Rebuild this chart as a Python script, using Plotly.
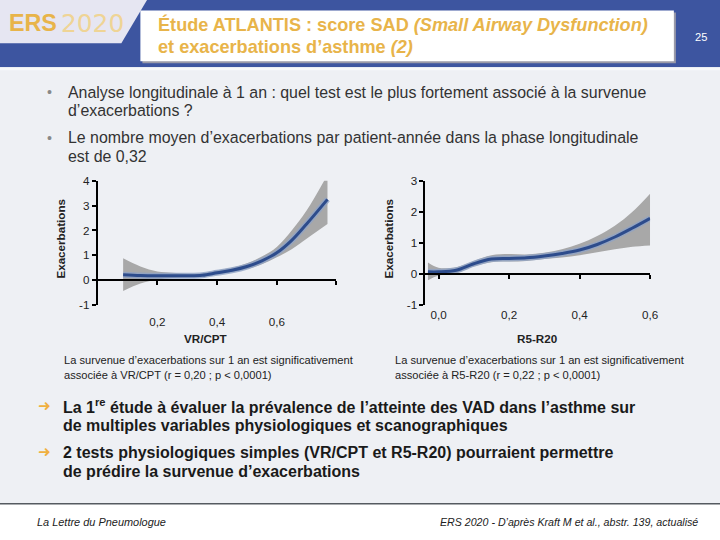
import plotly.graph_objects as go

# design coordinates follow the 720x540 slide; S compensates the screenshot scaling
W, H = 720, 540
S = 1.0135

# ---------------- data ----------------
vr_x = [0.085, 0.143, 0.2, 0.25, 0.3, 0.35, 0.4, 0.45, 0.5, 0.55, 0.6, 0.65, 0.7, 0.77]
vr_fit = [0.22, 0.19, 0.18, 0.18, 0.18, 0.2, 0.3, 0.4, 0.55, 0.78, 1.1, 1.6, 2.26, 3.25]
vr_lo = [-0.43, -0.13, 0.03, 0.09, 0.12, 0.15, 0.22, 0.32, 0.45, 0.64, 0.92, 1.25, 1.67, 2.26]
vr_hi = [0.88, 0.55, 0.35, 0.3, 0.26, 0.28, 0.4, 0.5, 0.68, 0.95, 1.34, 2.0, 2.8, 4.24]

r5_x = [-0.03, 0.0, 0.05, 0.1, 0.15, 0.2, 0.25, 0.3, 0.35, 0.4, 0.45, 0.5, 0.55, 0.6]
r5_fit = [0.07, 0.07, 0.12, 0.33, 0.48, 0.5, 0.52, 0.58, 0.66, 0.77, 0.95, 1.19, 1.48, 1.79]
r5_lo = [-0.2, -0.05, 0.03, 0.24, 0.38, 0.4, 0.42, 0.48, 0.53, 0.6, 0.7, 0.8, 0.88, 0.92]
r5_hi = [0.37, 0.2, 0.22, 0.42, 0.6, 0.64, 0.63, 0.68, 0.8, 0.97, 1.22, 1.55, 2.0, 2.58]

vr_ticks = [0.2, 0.4, 0.6]
vr_ticktext = ["0,2", "0,4", "0,6"]
r5_ticks = [0.0, 0.2, 0.4, 0.6]
r5_ticktext = ["0,0", "0,2", "0,4", "0,6"]
vr_yticks = [-1, 0, 1, 2, 3, 4]
r5_yticks = [-1, 0, 1, 2, 3]

# ---------------- style ----------------
BLUE_BAND = "#3d55a0"
GOLD = "#e8b44a"
LINE = "#2d4c8c"
HALO = "#8fa3c6"
BAND = "#a8a8a8"
BG = "#eef0f4"
FONT = "Liberation Sans, Arial, sans-serif"
NARROW = "Liberation Sans Narrow, Arial Narrow, Liberation Sans, Arial, sans-serif"

def px(x):
    return x / W

def py(y):
    # small vertical correction: lift the top a few px, keep the bottom in place
    y2 = y - 4.5 + 3.5 * y / H
    return 1 - y2 / H

def fs(v):
    return v * S

fig = go.Figure()

def add_chart(x, fit, lo, hi, xa, ya):
    fig.add_trace(go.Scatter(x=x, y=hi, mode="lines", line=dict(width=0, shape="spline", color=BAND),
                             xaxis=xa, yaxis=ya, hoverinfo="skip", showlegend=False))
    fig.add_trace(go.Scatter(x=x, y=lo, mode="lines", line=dict(width=0, shape="spline", color=BAND),
                             fill="tonexty", fillcolor=BAND, xaxis=xa, yaxis=ya,
                             hoverinfo="skip", showlegend=False))
    fig.add_trace(go.Scatter(x=x, y=fit, mode="lines", line=dict(width=6, shape="spline", color=HALO),
                             xaxis=xa, yaxis=ya, hoverinfo="skip", showlegend=False, opacity=0.8))
    fig.add_trace(go.Scatter(x=x, y=fit, mode="lines", line=dict(width=3, shape="spline", color=LINE),
                             xaxis=xa, yaxis=ya, showlegend=False))

add_chart(vr_x, vr_fit, vr_lo, vr_hi, "x", "y")
add_chart(r5_x, r5_fit, r5_lo, r5_hi, "x2", "y2")
# anchors for the zero-line axes
fig.add_trace(go.Scatter(x=[vr_x[0]], y=[vr_fit[0]], mode="lines", xaxis="x3", yaxis="y",
                         showlegend=False, hoverinfo="skip"))
fig.add_trace(go.Scatter(x=[r5_x[0]], y=[r5_fit[0]], mode="lines", xaxis="x4", yaxis="y2",
                         showlegend=False, hoverinfo="skip"))

ydom = [py(304), py(179)]
x1dom = [px(97.5), px(335.5)]
x2dom = [px(424.3), px(648.3)]
y1range = [-1, 4]
y2range = [-1, 3]
x1range = [0, 0.8]
x2range = [-0.037, 0.6]

def zero_pos(rng):
    return ydom[0] + (0 - rng[0]) / (rng[1] - rng[0]) * (ydom[1] - ydom[0])

tickfont = dict(family=FONT, size=fs(11.5), color="#222222")
common_y = dict(showline=True, linecolor="black", linewidth=2, ticks="outside", ticklen=4,
                tickwidth=2, tickcolor="black", showgrid=False, zeroline=False,
                tickfont=tickfont, domain=ydom, fixedrange=True)

fig.update_layout(
    width=round(W * S), height=round(H * S), margin=dict(l=0, r=0, t=0, b=0),
    paper_bgcolor=BG, plot_bgcolor="rgba(0,0,0,0)", showlegend=False,
    xaxis=dict(domain=x1dom, range=x1range, anchor="y", tickvals=vr_ticks, ticktext=vr_ticktext,
               showline=False, ticks="", showgrid=False, zeroline=False, tickfont=tickfont,
               ticklabelstandoff=8),
    yaxis=dict(anchor="x", range=y1range, tickvals=vr_yticks,
               ticktext=[str(v) for v in vr_yticks], **common_y),
    xaxis2=dict(domain=x2dom, range=x2range, anchor="y2", tickvals=r5_ticks, ticktext=r5_ticktext,
                showline=False, ticks="", showgrid=False, zeroline=False, tickfont=tickfont,
                ticklabelstandoff=1),
    yaxis2=dict(anchor="x2", range=y2range, tickvals=r5_yticks,
                ticktext=[str(v) for v in r5_yticks], **common_y),
    xaxis3=dict(overlaying="x", range=x1range, anchor="free", position=zero_pos(y1range),
                showline=True, linecolor="black", linewidth=2, ticks="outside", ticklen=4,
                tickwidth=2, tickcolor="black", tickvals=[0.2, 0.4, 0.6, 0.8],
                showticklabels=False, showgrid=False, zeroline=False),
    xaxis4=dict(overlaying="x2", range=x2range, anchor="free", position=zero_pos(y2range),
                showline=True, linecolor="black", linewidth=2, ticks="outside", ticklen=4,
                tickwidth=2, tickcolor="black", tickvals=r5_ticks,
                showticklabels=False, showgrid=False, zeroline=False),
)

shapes = []
def rect(x0, y0, x1, y1, fill, line=None, lw=0):
    shapes.append(dict(type="rect", xref="paper", yref="paper", x0=px(x0), x1=px(x1),
                       y0=py(y1), y1=py(y0), fillcolor=fill,
                       line=dict(width=lw, color=line or fill), layer="below"))

# header
rect(0, -10, 720, 65, BLUE_BAND)
shapes.append(dict(type="path", xref="paper", yref="paper",
                   path=f"M 0,{py(-10)} L {px(151)},{py(-10)} L {px(121)},{py(41)} L 0,{py(41)} Z",
                   fillcolor="#e6e6f2", line=dict(width=0), layer="below"))
rect(142, 10, 674, 61, "#9a9aa8")
rect(140, 8, 672, 59, "white")
rect(0, 65, 720, 68, "#f7f8fa")
# footer
rect(0, 503, 720, 550, "white")
shapes.append(dict(type="line", xref="paper", yref="paper", x0=0, x1=1, y0=py(503.5), y1=py(503.5),
                   line=dict(color="#555a60", width=1.5), layer="below"))
fig.update_layout(shapes=shapes)

ann = []
def text(x, y, s, size, color="#222222", family=FONT, xanchor="left", bold=False, italic=False,
         textangle=0):
    if bold:
        s = f"<b>{s}</b>"
    if italic:
        s = f"<i>{s}</i>"
    ann.append(dict(x=px(x), y=py(y), xref="paper", yref="paper", text=s, showarrow=False,
                    xanchor=xanchor, yanchor="middle", textangle=textangle,
                    font=dict(family=family, size=fs(size), color=color)))

# logo
text(7, 21, "ERS", 23, GOLD, family="Liberation Sans, Arial", bold=True)
text(59, 21, "2020", 24.5, "#efd495", family="DejaVu Sans, sans-serif")
# title
text(156, 22, "Étude ATLANTIS : score SAD <i>(Small Airway Dysfunction)</i>", 17.9, GOLD, NARROW, bold=True)
text(156, 45, "et exacerbations d’asthme <i>(2)</i>", 17.9, GOLD, NARROW, bold=True)
text(699, 35, "25", 11, "white", NARROW, xanchor="center")

# bullets
body = "#333333"
text(45, 90, "•", 14, "#888888")
text(66, 90, "Analyse longitudinale à 1 an : quel test est le plus fortement associé à la survenue", 15.7, body)
text(66, 108, "d’exacerbations ?", 15.7, body)
text(45, 136, "•", 14, "#888888")
text(66, 136, "Le nombre moyen d’exacerbations par patient-année dans la phase longitudinale", 15.7, body)
text(66, 155, "est de 0,32", 15.7, body)

# axis titles
text(60, 237, "Exacerbations", 11.5, "#222222", bold=True, xanchor="center", textangle=-90)
text(387, 237, "Exacerbations", 11.5, "#222222", bold=True, xanchor="center", textangle=-90)
text(205, 338, "VR/CPT", 11.5, "#222222", bold=True, xanchor="center")
text(536, 338, "R5-R20", 11.5, "#222222", bold=True, xanchor="center")

# captions
text(62, 359, "La survenue d’exacerbations sur 1 an est significativement", 11, "#222222")
text(62, 374, "associée à VR/CPT (r = 0,20 ; p < 0,0001)", 11, "#222222")
text(392, 359, "La survenue d’exacerbations sur 1 an est significativement", 11, "#222222")
text(392, 374, "associée à R5-R20 (r = 0,22 ; p < 0,0001)", 11, "#222222")

# conclusions
text(36, 405, "➜", 15, "#f0b040", family="DejaVu Sans")
text(61, 405, "La 1<sup>re</sup> étude à évaluer la prévalence de l’atteinte des VAD dans l’asthme sur", 15.8, "#1a1a1a", bold=True)
text(61, 425, "de multiples variables physiologiques et scanographiques", 15.8, "#1a1a1a", bold=True)
text(36, 452, "➜", 15, "#f0b040", family="DejaVu Sans")
text(61, 452, "2 tests physiologiques simples (VR/CPT et R5-R20) pourraient permettre", 15.8, "#1a1a1a", bold=True)
text(61, 471, "de prédire la survenue d’exacerbations", 15.8, "#1a1a1a", bold=True)

# footer
text(35, 522, "La Lettre du Pneumologue", 10.8, "#222222", italic=True)
text(698, 522, "ERS 2020 - D’après Kraft M et al., abstr. 139, actualisé", 10.5, "#222222", italic=True, xanchor="right")

fig.update_layout(annotations=ann)
fig.write_html("out.html", config={"displayModeBar": False},
               post_script="document.body.style.margin='0px';document.body.style.overflow='hidden';"
                           "document.documentElement.style.overflow='hidden';")
